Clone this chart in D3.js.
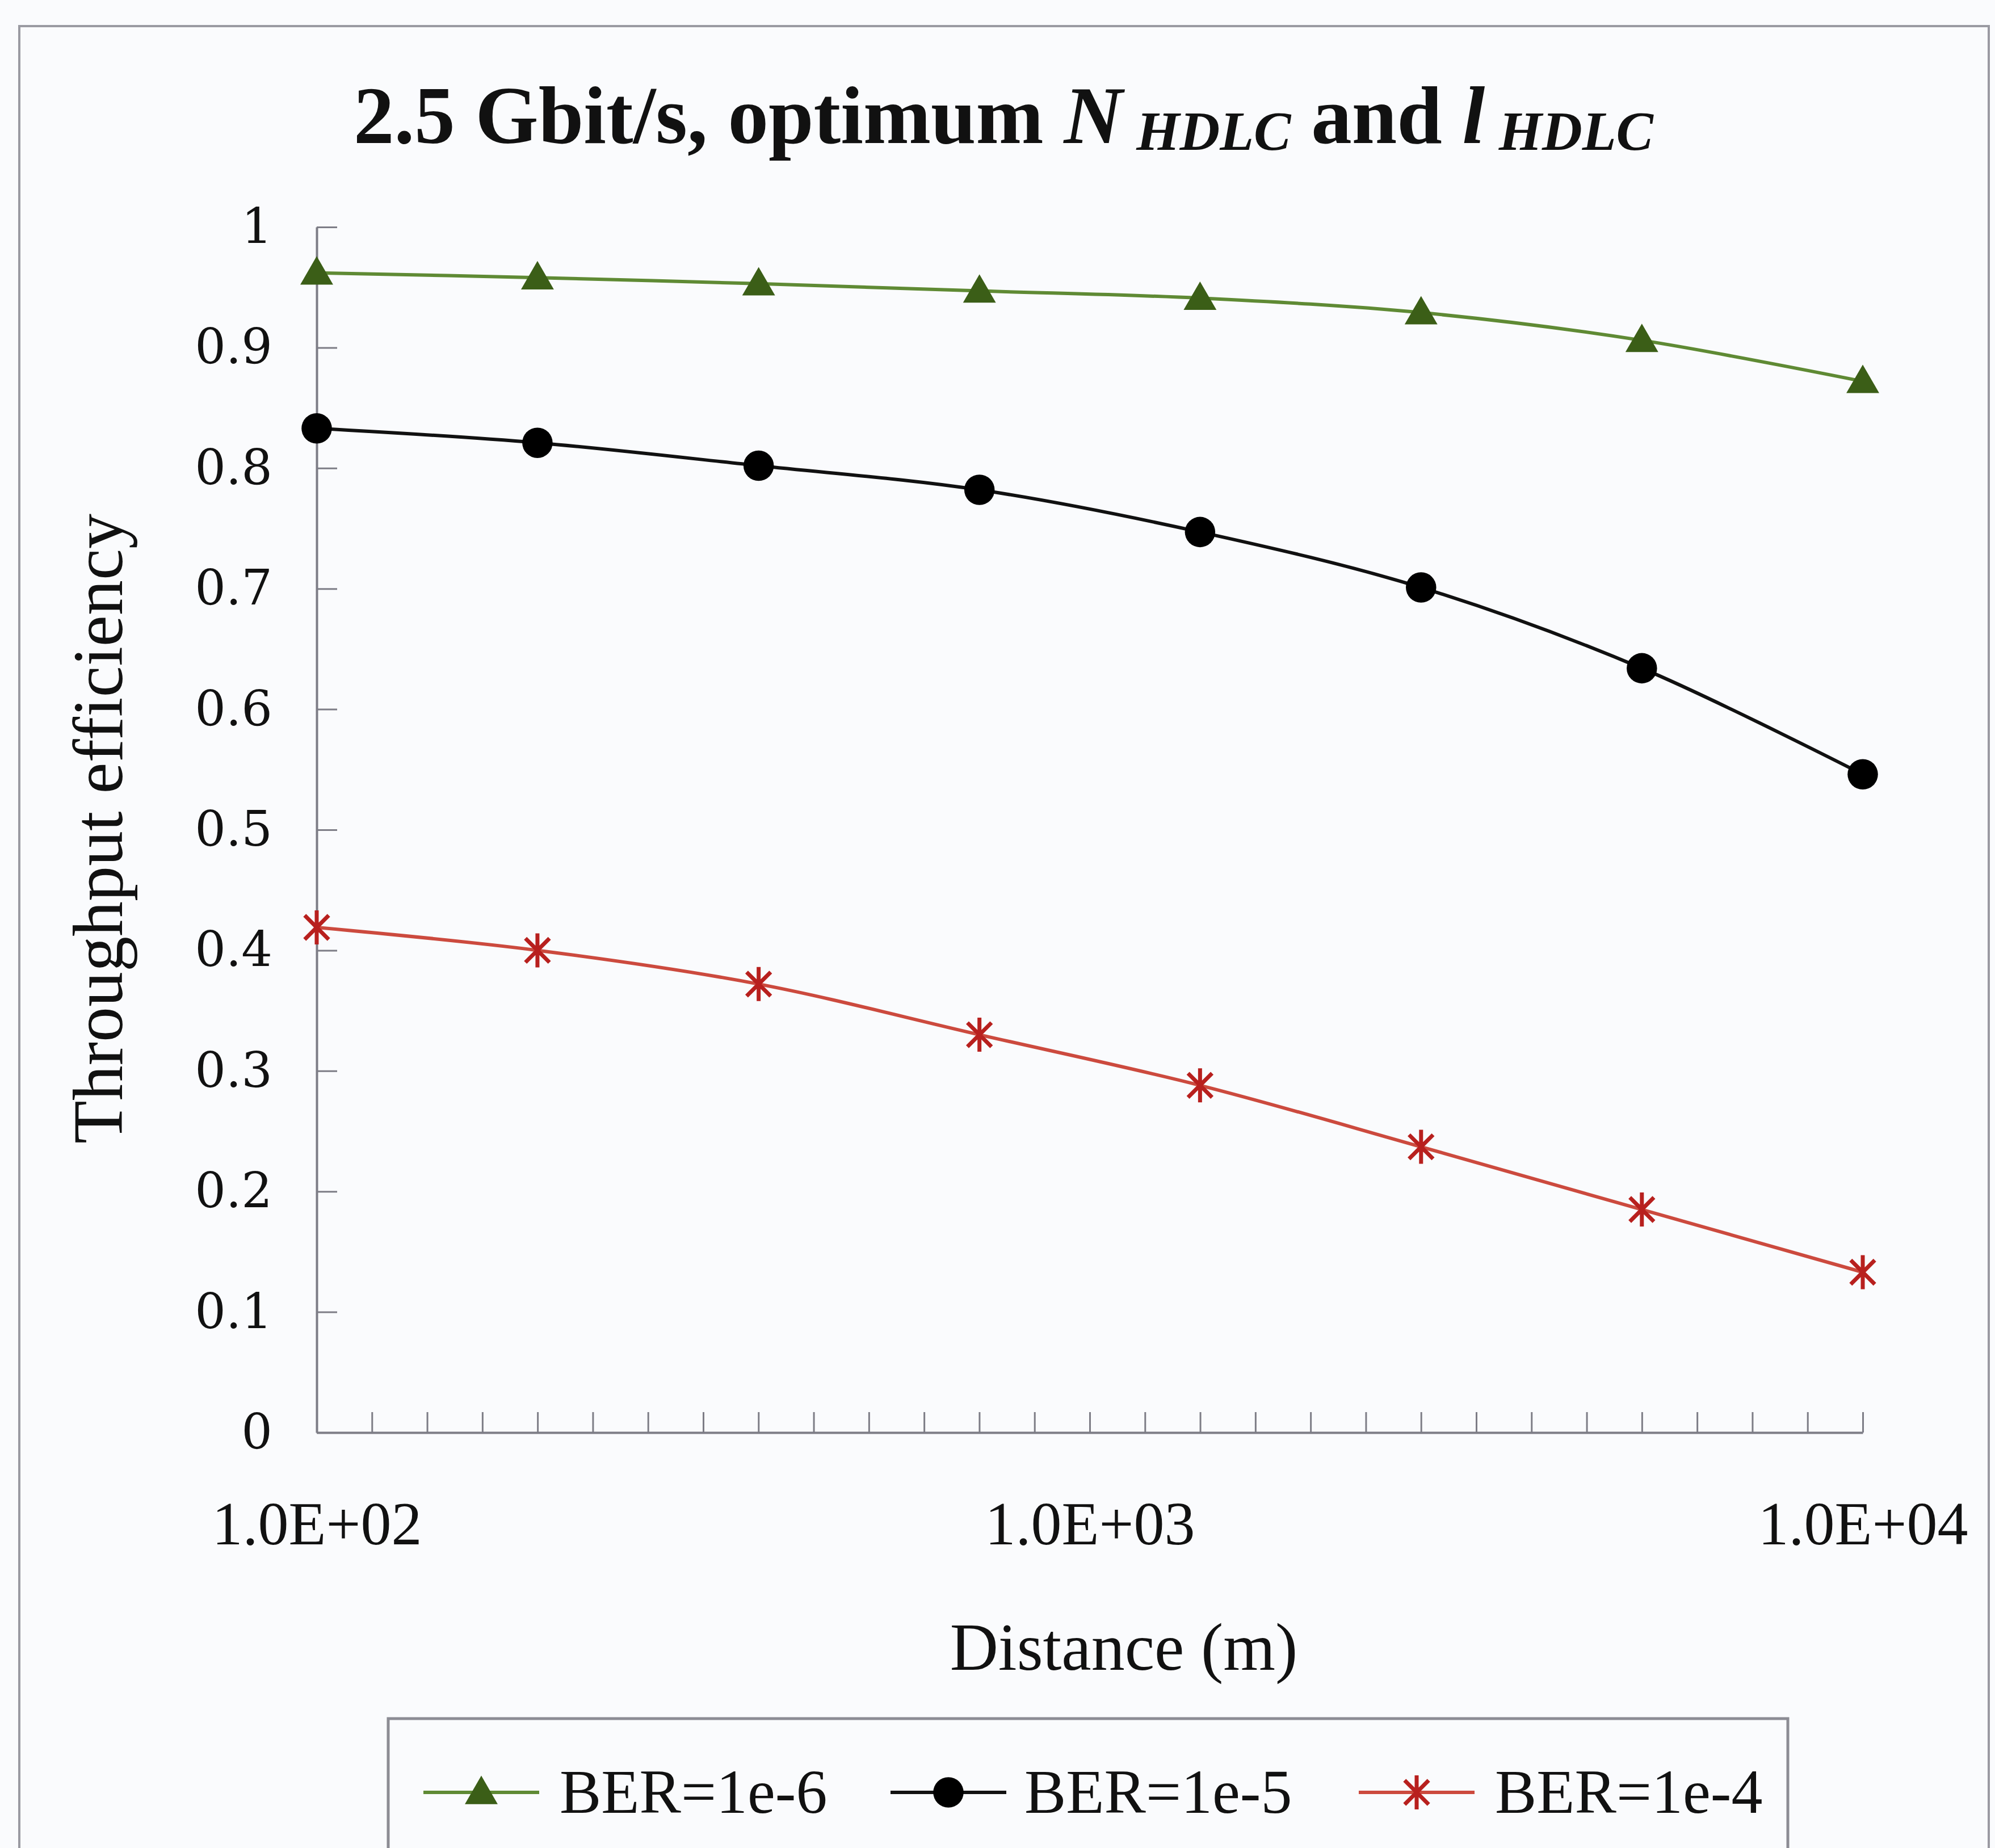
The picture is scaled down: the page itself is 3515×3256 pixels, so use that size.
<!DOCTYPE html>
<html>
<head>
<meta charset="utf-8">
<script src="https://cdn.jsdelivr.net/npm/d3@7"></script>
<style>
  html, body { margin: 0; padding: 0; background: #fafbfd; }
  svg { display: block; }
</style>
</head>
<body>
<svg id="chart" width="3515" height="3256"></svg>
<script>
// Distance in metres (log-spaced sample points)
const distances = [100, 193, 373, 720, 1389, 2683, 5179, 10000];

// Throughput efficiency for each bit error rate
const ber6 = [0.962, 0.958, 0.953, 0.947, 0.941, 0.929, 0.906, 0.872];
const ber5 = [0.833, 0.821, 0.802, 0.782, 0.747, 0.701, 0.634, 0.546];
const ber4 = [0.419, 0.400, 0.372, 0.330, 0.288, 0.237, 0.185, 0.133];

const seriesNames = ["BER=1e-6", "BER=1e-5", "BER=1e-4"];
const yTicks = [0, 0.1, 0.2, 0.3, 0.4, 0.5, 0.6, 0.7, 0.8, 0.9, 1];
const xLabelTicks = [100, 1000, 10000];

const svg = d3.select("#chart");
const W = 3515, H = 3256;

svg.append("rect").attr("width", W).attr("height", H).attr("fill", "#fafbfd");

// outer chart frame
svg.append("rect")
  .attr("x", 34).attr("y", 46).attr("width", 3470).attr("height", 3300)
  .attr("fill", "none").attr("stroke", "#9a9aa2").attr("stroke-width", 4);

const plot = { left: 558, right: 3282, top: 400, bottom: 2524 };

const x = d3.scaleLog().domain([100, 10000]).range([plot.left, plot.right]);
const y = d3.scaleLinear().domain([0, 1]).range([plot.bottom, plot.top]);

// ---- title ----
const title = svg.append("text")
  .attr("x", 1768).attr("y", 252)
  .attr("text-anchor", "middle")
  .attr("font-family", "'Liberation Serif', 'Times New Roman', serif")
  .attr("font-weight", "bold")
  .attr("font-size", 143)
  .attr("fill", "#111");
title.append("tspan").text("2.5 Gbit/s, optimum ");
title.append("tspan").attr("font-style", "italic").text("N");
title.append("tspan").attr("font-style", "italic").attr("font-size", 98).attr("dy", 12).text(" HDLC");
title.append("tspan").attr("dy", -12).text(" and ");
title.append("tspan").attr("font-style", "italic").text("l");
title.append("tspan").attr("font-style", "italic").attr("font-size", 98).attr("dy", 12).text(" HDLC");

// ---- y axis ----
const yAxis = d3.axisLeft(y)
  .tickValues(yTicks)
  .tickFormat(d3.format("~g"))
  .tickSizeInner(-36)
  .tickSizeOuter(0)
  .tickPadding(78);

const gy = svg.append("g")
  .attr("transform", `translate(${plot.left},0)`)
  .call(yAxis);
gy.select(".domain").attr("stroke", "#7d7d86").attr("stroke-width", 4);
gy.selectAll(".tick line").attr("stroke", "#7d7d86").attr("stroke-width", 3);
gy.selectAll(".tick text")
  .attr("font-family", "'DejaVu Serif', serif")
  .attr("font-size", 86)
  .attr("fill", "#111");

// ---- x axis: evenly spaced minor ticks on the log scale ----
const minorTicks = d3.range(0, 29).map(k => Math.pow(10, 2 + k / 14));
const xMinor = d3.axisBottom(x)
  .tickValues(minorTicks)
  .tickFormat("")
  .tickSizeInner(-36)
  .tickSizeOuter(0);
const gxm = svg.append("g")
  .attr("transform", `translate(0,${plot.bottom})`)
  .call(xMinor);
gxm.select(".domain").attr("stroke", "#7d7d86").attr("stroke-width", 4);
gxm.selectAll(".tick line").attr("stroke", "#7d7d86").attr("stroke-width", 3);

const xAxis = d3.axisBottom(x)
  .tickValues(xLabelTicks)
  .tickFormat(d => d3.format(".1e")(d).toUpperCase().replace(/E\+(\d)$/, "E+0$1"))
  .tickSize(0)
  .tickPadding(120);
const gx = svg.append("g")
  .attr("transform", `translate(0,${plot.bottom})`)
  .call(xAxis);
gx.select(".domain").remove();
gx.selectAll(".tick text")
  .attr("font-family", "'Liberation Serif', 'Times New Roman', serif")
  .attr("font-size", 108)
  .attr("fill", "#111");

// ---- axis titles ----
svg.append("text")
  .attr("x", 1980).attr("y", 2942)
  .attr("text-anchor", "middle")
  .attr("font-family", "'Liberation Serif', 'Times New Roman', serif")
  .attr("font-size", 118)
  .attr("fill", "#111")
  .text("Distance (m)");

svg.append("text")
  .attr("transform", "translate(215,1460) rotate(-90)")
  .attr("text-anchor", "middle")
  .attr("font-family", "'Liberation Serif', 'Times New Roman', serif")
  .attr("font-size", 124)
  .attr("fill", "#111")
  .text("Throughput efficiency");

// ---- series ----
const series = [
  { name: seriesNames[0], values: ber6, line: "#5f8a34", marker: "#3b5e17", shape: "triangle" },
  { name: seriesNames[1], values: ber5, line: "#111111", marker: "#000000", shape: "circle" },
  { name: seriesNames[2], values: ber4, line: "#cc4a3e", marker: "#b8201e", shape: "star" }
];

const line = d3.line()
  .x(d => x(d[0]))
  .y(d => y(d[1]))
  .curve(d3.curveCatmullRom.alpha(0.5));

function drawMarker(g, shape, color) {
  if (shape === "triangle") {
    g.append("path")
      .attr("d", d3.symbol(d3.symbolTriangle, 1450)())
      .attr("transform", "translate(0,4)")
      .attr("fill", color);
  } else if (shape === "circle") {
    g.append("path")
      .attr("d", d3.symbol(d3.symbolCircle, 2250)())
      .attr("fill", color);
  } else {
    const r = 30;
    const a = r * Math.SQRT1_2;
    g.append("path")
      .attr("d", `M0,${-r}L0,${r}M${-a},${-a}L${a},${a}M${-a},${a}L${a},${-a}`)
      .attr("stroke", color)
      .attr("stroke-width", 7)
      .attr("fill", "none");
  }
}

series.forEach(s => {
  const pts = distances.map((d, i) => [d, s.values[i]]);
  svg.append("path")
    .datum(pts)
    .attr("d", line)
    .attr("fill", "none")
    .attr("stroke", s.line)
    .attr("stroke-width", 6);
  const gm = svg.append("g");
  pts.forEach(p => {
    const m = gm.append("g").attr("transform", `translate(${x(p[0])},${y(p[1])})`);
    drawMarker(m, s.shape, s.marker);
  });
});

// ---- legend ----
svg.append("rect")
  .attr("x", 684).attr("y", 3028).attr("width", 2466).attr("height", 400)
  .attr("fill", "none").attr("stroke", "#8c8c94").attr("stroke-width", 5);

const legendItems = [
  { x: 746, textX: 986 },
  { x: 1569, textX: 1805 },
  { x: 2394, textX: 2634 }
];
series.forEach((s, i) => {
  const li = legendItems[i];
  const g = svg.append("g");
  g.append("line")
    .attr("x1", li.x).attr("x2", li.x + 204)
    .attr("y1", 3158).attr("y2", 3158)
    .attr("stroke", s.line).attr("stroke-width", 6);
  const m = g.append("g").attr("transform", `translate(${li.x + 102},3158)`);
  drawMarker(m, s.shape, s.marker);
  g.append("text")
    .attr("x", li.textX).attr("y", 3194)
    .attr("font-family", "'Liberation Serif', 'Times New Roman', serif")
    .attr("font-size", 110)
    .attr("fill", "#111")
    .text(s.name);
});
</script>
</body>
</html>
